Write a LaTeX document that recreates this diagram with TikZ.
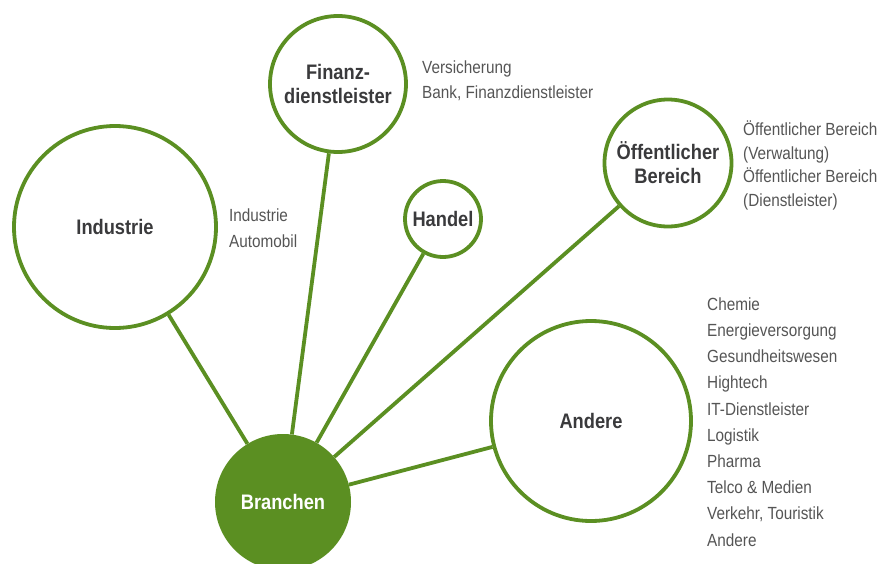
\documentclass[tikz,border=0pt]{standalone}
\usepackage{fontspec}
\setmainfont{Liberation Sans}[FakeStretch=0.87]
\definecolor{leaf}{RGB}{91,143,34}
\definecolor{labelgray}{RGB}{58,58,60}
\definecolor{listgray}{RGB}{85,85,85}
\begin{document}
\begin{tikzpicture}[x=1pt,y=-1pt,
  ring/.style={circle,draw=leaf,line width=3.8pt,fill=white,inner sep=0pt,
    align=center,text=labelgray,font=\bfseries\fontsize{21}{24}\selectfont},
  hub/.style={circle,fill=leaf,inner sep=0pt,text=white,
    font=\bfseries\fontsize{21}{25}\selectfont},
  items/.style={anchor=west,inner sep=0pt,align=left,text=listgray},
  spoke/.style={draw=leaf,line width=3.8pt}]
\useasboundingbox (0,0) rectangle (895,563);

% central hub
\node[hub,minimum size=136pt] (hub) at (283,502) {Branchen};

% sector circles
\node[ring,minimum size=202pt] (ind) at (115,227) {Industrie};
\node[ring,minimum size=136pt] (fin) at (338,84) {Finanz-\\dienstleister};
\node[ring,minimum size=76pt]  (han) at (443,219) {Handel};
\node[ring,minimum size=127pt] (oef) at (668,163) {Öffentlicher\\Bereich};
\node[ring,minimum size=200pt] (and) at (591,421) {Andere};

% spokes from the hub
\draw[spoke] (hub) -- (ind);
\draw[spoke] (hub) -- (fin);
\draw[spoke] (hub) -- (han);
\draw[spoke] (hub) -- (oef);
\draw[spoke] (hub) -- (and);

% sub-sector lists
\node[items,font=\fontsize{17.6}{26}\selectfont] (indlist) at (229,228)
  {Industrie\\Automobil};
\node[items,font=\fontsize{17.6}{25}\selectfont] (finlist) at (422,80.5)
  {Versicherung\\Bank, Finanzdienstleister};
\node[items,font=\fontsize{17.6}{23.7}\selectfont] (oeflist) at (743,165.5)
  {Öffentlicher Bereich\\(Verwaltung)\\Öffentlicher Bereich\\(Dienstleister)};
\node[items,font=\fontsize{17.6}{26.2}\selectfont] (andlist) at (707,422)
  {Chemie\\Energieversorgung\\Gesundheitswesen\\Hightech\\IT-Dienstleister\\Logistik\\Pharma\\Telco \& Medien\\Verkehr, Touristik\\Andere};
\end{tikzpicture}
\end{document}
